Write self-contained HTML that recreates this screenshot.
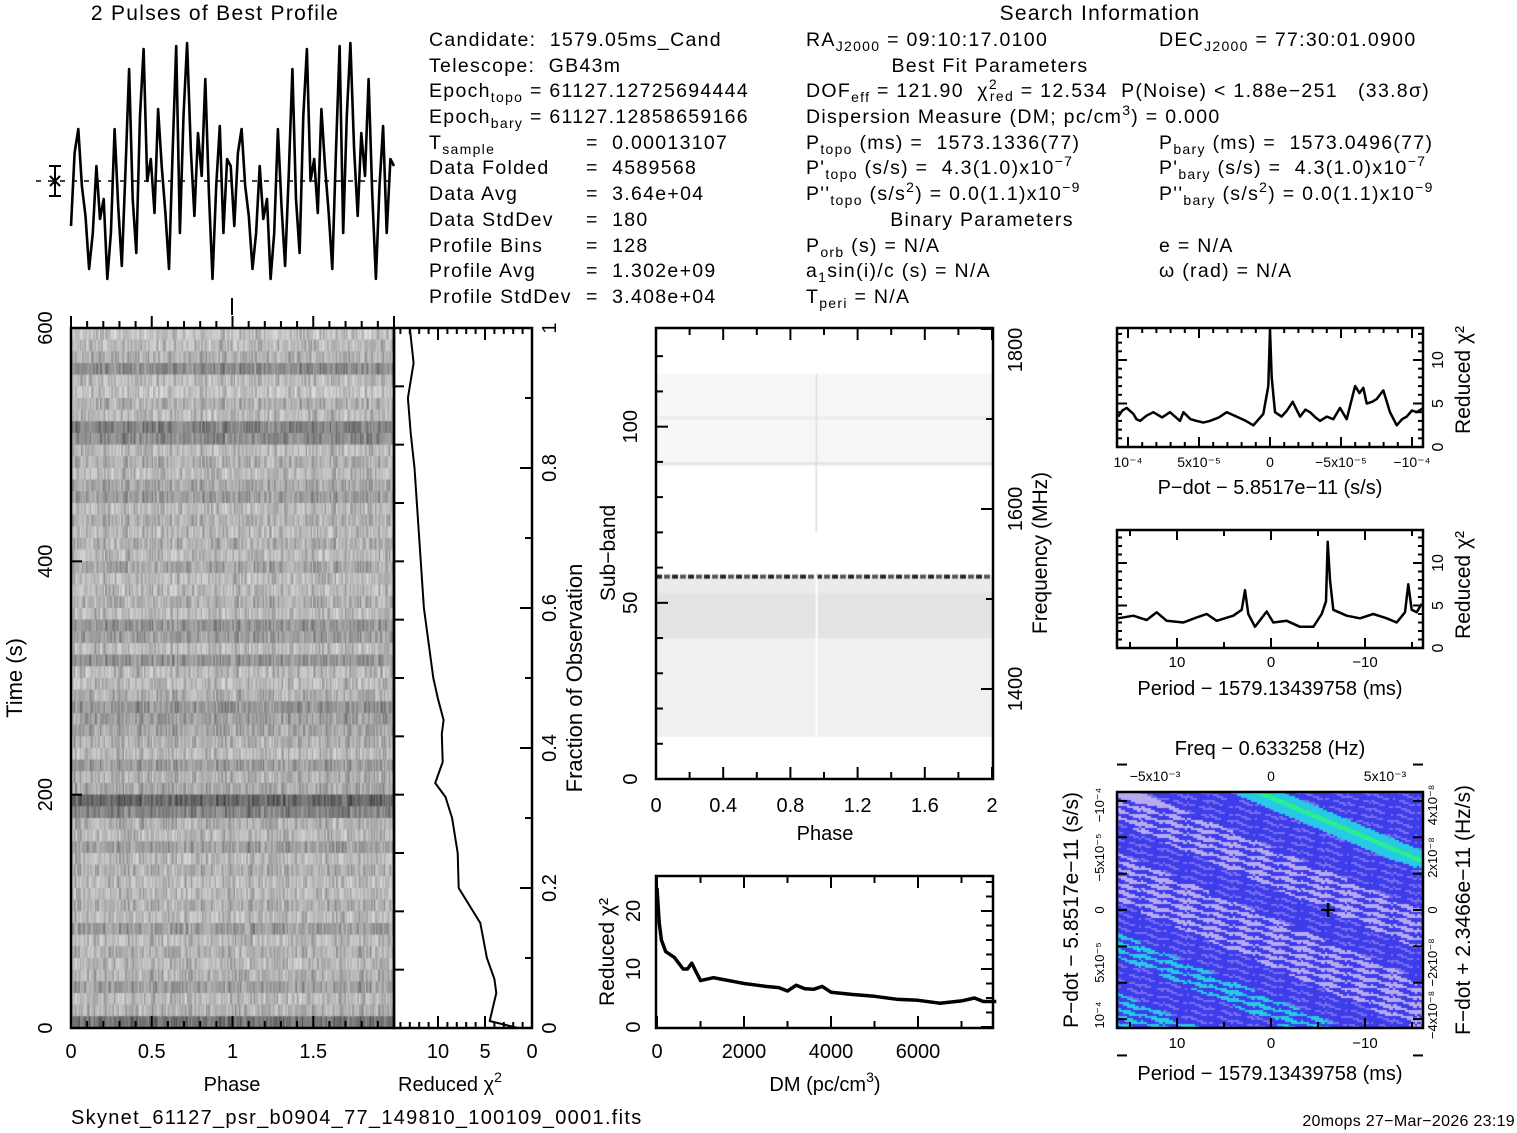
<!DOCTYPE html>
<html><head><meta charset="utf-8"><style>
html,body{margin:0;padding:0;background:#fff;}
#wrap{position:relative;width:1517px;height:1133px;overflow:hidden;background:#fff;}
canvas{position:absolute;}
svg{position:absolute;left:0;top:0;}
text{font-family:"Liberation Sans",sans-serif;fill:#000;white-space:pre;}
#info text{letter-spacing:1.3px;}
</style></head><body>
<div id="wrap">
<canvas id="tp" width="323" height="700" style="left:71px;top:328px"></canvas>
<canvas id="sb" width="337" height="451" style="left:656px;top:328px"></canvas>
<canvas id="pp" width="307" height="236" style="left:1117px;top:792px"></canvas>
<svg id="s" width="1517" height="1133" xmlns="http://www.w3.org/2000/svg">
<g id="info" font-size="19.5" xml:space="preserve">
<text x="215" y="20" font-size="21" text-anchor="middle">2 Pulses of Best Profile</text>
<text x="1100" y="20" font-size="21" text-anchor="middle">Search Information</text>
<text x="429" y="46">Candidate:  1579.05ms_Cand</text>
<text x="429" y="72">Telescope:  GB43m</text>
<text x="429" y="97">Epoch<tspan font-size="14" dy="5">topo</tspan><tspan dy="-5"> = 61127.12725694444</tspan></text>
<text x="429" y="123">Epoch<tspan font-size="14" dy="5">bary</tspan><tspan dy="-5"> = 61127.12858659166</tspan></text>
<text x="429" y="149">T<tspan font-size="14" dy="5">sample</tspan></text>
<text x="429" y="174">Data Folded</text><text x="429" y="200">Data Avg</text><text x="429" y="226">Data StdDev</text>
<text x="429" y="252">Profile Bins</text><text x="429" y="277">Profile Avg</text><text x="429" y="303">Profile StdDev</text>
<text x="586" y="149">=  0.00013107</text><text x="586" y="174">=  4589568</text><text x="586" y="200">=  3.64e+04</text>
<text x="586" y="226">=  180</text><text x="586" y="252">=  128</text><text x="586" y="277">=  1.302e+09</text><text x="586" y="303">=  3.408e+04</text>
<text x="806" y="46">RA<tspan font-size="14" dy="5">J2000</tspan><tspan dy="-5"> = 09:10:17.0100</tspan></text>
<text x="990" y="72" text-anchor="middle">Best Fit Parameters</text>
<text x="806" y="97">DOF<tspan font-size="14" dy="5">eff</tspan><tspan dy="-5"> = 121.90  χ</tspan><tspan font-size="14" dy="-8">2</tspan><tspan font-size="14" dy="12" dx="-8">red</tspan><tspan dy="-4"> = 12.534  P(Noise) &lt; 1.88e−251   (33.8σ)</tspan></text>
<text x="806" y="123">Dispersion Measure (DM; pc/cm<tspan font-size="14" dy="-8">3</tspan><tspan dy="8">) = 0.000</tspan></text>
<text x="806" y="149">P<tspan font-size="14" dy="5">topo</tspan><tspan dy="-5"> (ms) =  1573.1336(77)</tspan></text>
<text x="806" y="174">P'<tspan font-size="14" dy="5">topo</tspan><tspan dy="-5"> (s/s) =  4.3(1.0)x10</tspan><tspan font-size="14" dy="-8">−7</tspan></text>
<text x="806" y="200">P''<tspan font-size="14" dy="5">topo</tspan><tspan dy="-5"> (s/s</tspan><tspan font-size="14" dy="-8">2</tspan><tspan dy="8">) = 0.0(1.1)x10</tspan><tspan font-size="14" dy="-8">−9</tspan></text>
<text x="982" y="226" text-anchor="middle">Binary Parameters</text>
<text x="806" y="252">P<tspan font-size="14" dy="5">orb</tspan><tspan dy="-5"> (s) = N/A</tspan></text>
<text x="806" y="277">a<tspan font-size="14" dy="5">1</tspan><tspan dy="-5">sin(i)/c (s) = N/A</tspan></text>
<text x="806" y="303">T<tspan font-size="14" dy="5">peri</tspan><tspan dy="-5"> = N/A</tspan></text>
<text x="1159" y="46">DEC<tspan font-size="14" dy="5">J2000</tspan><tspan dy="-5"> = 77:30:01.0900</tspan></text>
<text x="1159" y="149">P<tspan font-size="14" dy="5">bary</tspan><tspan dy="-5"> (ms) =  1573.0496(77)</tspan></text>
<text x="1159" y="174">P'<tspan font-size="14" dy="5">bary</tspan><tspan dy="-5"> (s/s) =  4.3(1.0)x10</tspan><tspan font-size="14" dy="-8">−7</tspan></text>
<text x="1159" y="200">P''<tspan font-size="14" dy="5">bary</tspan><tspan dy="-5"> (s/s</tspan><tspan font-size="14" dy="-8">2</tspan><tspan dy="8">) = 0.0(1.1)x10</tspan><tspan font-size="14" dy="-8">−9</tspan></text>
<text x="1159" y="252">e = N/A</text>
<text x="1159" y="277">ω (rad) = N/A</text>
<text x="71" y="1124" font-size="20">Skynet_61127_psr_b0904_77_149810_100109_0001.fits</text>
<text x="1515" y="1126" font-size="16" text-anchor="end" style="letter-spacing:0.3px">20mops 27−Mar−2026 23:19</text>
</g>
<g id="g" fill="none" stroke="#000"></g>
<g id="t" font-size="20"></g>
</svg>
</div>
<script>
// ---- data arrays ----
const profileVals=[-45,28,52,-5,-35,-88,-52,15,-38,-18,-98,-52,52,-25,-85,8,112,-18,-72,65,132,0,22,-32,72,15,-32,-88,28,135,-52,65,138,32,-35,48,5,102,-12,-98,-5,55,-52,22,15];
const timeRowDark=[0.25,0.3,0.35,0.55,0.3,0.25,0.35,0.3,0.6,0.55,0.3,0.35,0.3,0.4,0.45,0.3,0.35,0.3,0.35,0.3,0.4,0.3,0.3,0.35,0.3,0.5,0.45,0.3,0.5,0.3,0.3,0.35,0.5,0.45,0.4,0.35,0.3,0.45,0.35,0.4,0.75,0.6,0.35,0.3,0.45,0.3,0.35,0.3,0.3,0.35,0.3,0.45,0.3,0.35,0.3,0.35,0.45,0.3,0.35,0.7];
const fracVals=[0,0.01,0.05,0.07,0.1,0.15,0.2,0.25,0.3,0.33,0.35,0.38,0.42,0.44,0.47,0.5,0.6,0.7,0.8,0.85,0.9,0.95,1.0];
const fracChi=[1.5,4.5,3.8,4.0,4.8,5.5,7.8,7.9,8.5,9.2,10.3,9.5,9.6,9.4,10,10.5,11.5,12,12.5,12.9,13.2,12.6,13];
const subStart=[12,40,53,89,102,89];
const subEnd=[40,53,57,115,103,90];
const subDark=[0.06,0.11,0.08,0.03,0.07,0.1];
const dmVals=[0,50,100,200,400,600,700,800,900,1000,1300,1500,1800,2000,2300,2500,2800,3000,3200,3400,3600,3800,4000,4500,5000,5500,6000,6500,7000,7300,7500,7800];
const dmChi=[24,18,15,13,12,10,10,11,9.5,8,8.5,8.2,7.8,7.5,7.2,7,6.8,6.2,7.2,6.6,6.5,7,6,5.6,5.3,4.8,4.6,4.1,4.5,5,4.4,4.4];
const pdotVals=[10.68,10.4,10.09,9.62,9.4,9.15,8.7,8.22,7.6,7.04,6.34,6.1,5.6,5.16,4.7,4.23,3.6,3.05,2.35,1.7,1.17,0.47,0.12,0,-0.12,-0.35,-0.82,-1.2,-1.6,-2.11,-2.5,-2.82,-3.2,-3.52,-4.0,-4.46,-4.93,-5.4,-5.99,-6.3,-6.57,-6.81,-7.2,-7.51,-7.98,-8.45,-8.92,-9.3,-9.63,-10.0,-10.33,-10.8];
const pdotChi=[3.5,4.2,4.5,3.8,3.2,3,3.6,4,3.4,4,3,4,3.2,3,2.8,3,3.4,4,3.5,3,2.5,3.8,7,13.5,8,4,3.5,4.2,5.2,3.5,4.3,4,3.4,3,3.5,3.2,4.5,3.2,7,6.2,6.8,5,5.2,5.5,6.5,4,2.5,3.2,3.5,4.2,4,4.5];
const perZx=[55,100,140,170,200,250,290,320,350,400,425,435,445,465,500,520,560,600,640,665,678,683,690,700,740,780,820,860,890,915,925,935,950,965];
const perChi=[3.5,3.8,3.3,4.2,3.2,3.0,3.6,4,3.2,3.8,4.5,6.8,4,2.5,4.3,3.0,3.2,2.5,2.5,4,5.5,12.5,8,4.5,3.8,3.5,4,3.5,3,4.2,7.5,4.5,4.2,5.2];
const ppBandLo=[-130,-70,-62,-57,-48,-10,30,60,110,140,165,200];
const ppBandHi=[-70,-62,-57,-48,-10,30,60,110,140,165,200,240];
const ppBandType=['B','C','G','C','B','M','B','M','B','C','B','C'];

const NS='http://www.w3.org/2000/svg';
const G=document.getElementById('g'),T=document.getElementById('t');
function el(tag,attrs,parent,name){const e=document.createElementNS(NS,tag);for(const k in attrs)e.setAttribute(k,attrs[k]);


(parent||G).appendChild(e);return e;}
function txt(x,y,s,name,opt){const e=el('text',{x:x,y:y},T,name);e.textContent=s;if(opt){for(const k in opt)e.setAttribute(k,opt[k]);}return e;}
function rtxt(x,y,s,name,fs){const e=txt(0,0,s,name,{transform:`translate(${x},${y}) rotate(-90)`,'text-anchor':'middle'});if(fs)e.setAttribute('font-size',fs);return e;}
function supTxt(x,y,main,sup,tail,name,anchor){const e=el('text',{x:x,y:y},T,name);if(anchor)e.setAttribute('text-anchor',anchor);
const a=document.createElementNS(NS,'tspan');a.textContent=main;e.appendChild(a);
const b=document.createElementNS(NS,'tspan');b.textContent=sup;b.setAttribute('font-size','14');b.setAttribute('dy','-9');e.appendChild(b);
if(tail){const c=document.createElementNS(NS,'tspan');c.textContent=tail;c.setAttribute('dy','9');e.appendChild(c);}return e;}
function box(x,y,w,h,name){el('rect',{x:x,y:y,width:w,height:h,'stroke-width':2.5},G,name);}
function line(pts,name,w){el('polyline',{points:pts.map(p=>p[0].toFixed(1)+','+p[1].toFixed(1)).join(' '),'stroke-width':w||2,'stroke-linejoin':'round'},G,name);}
function tick(x1,y1,x2,y2,name){el('line',{x1:x1,y1:y1,x2:x2,y2:y2,'stroke-width':2},G,name);}

// ---- profile ----
const px=i=>71+i*(323/(2*profileVals.length-1));
const py=v=>181-v;
el('line',{x1:36,y1:181,x2:394,y2:181,'stroke-width':1.5,'stroke-dasharray':'5,7'},G,'profile-baseline');
const pp=[];for(let k=0;k<2;k++)profileVals.forEach((v,i)=>pp.push([px(k*profileVals.length+i),py(v)]));
line(pp,'profile-line',2.6);
el('path',{d:'M49,166 H61 M55,166 V196 M49,196 H61 M50,176 L60,186 M60,176 L50,186','stroke-width':2},G,'error-bar');
tick(232,298,232,315,'phase-marker');

// ---- time-phase heatmap ----
(function(){const c=document.getElementById('tp').getContext('2d');const R=timeRowDark.length,B=256,rh=700/R,bw=323/B;
for(let r=0;r<R;r++)for(let b=0;b<B;b++){const pv=profileVals[(b*17+r*29+((b*b+r)%11))%45]/138;
let d=timeRowDark[r]*0.9+0.22*pv;d=Math.max(0,Math.min(1,d));const g=Math.round(240-200*d);c.fillStyle=`rgb(${g},${g},${g})`;c.fillRect(b*bw,r*rh,bw+0.6,rh+0.6);}})();
box(71,328,323,700,'time-phase-frame');
const tY=v=>1028-v*700/600, phX=v=>71+v*161.5;
[0,200,400,600].forEach(v=>{tick(71,tY(v),82,tY(v),'time-tick');rtxt(52,tY(v)+0,String(v),'time-tick-label');});
for(let v=0;v<=2.001;v+=0.1){const big=Math.abs(v*2-Math.round(v*2))<0.01;tick(phX(v),328,phX(v),328-(big?12:7),'phase-tick');tick(phX(v),1028,phX(v),1028+(big?-12:-7),'phase-tick');}
[0,0.5,1,1.5].forEach(v=>txt(phX(v),1058,String(v),'phase-tick-label',{'text-anchor':'middle'}));
txt(232,1091,'Phase','phase-axis-title',{'text-anchor':'middle'});
rtxt(22,678,'Time (s)','time-axis-title',22);

// ---- chi2 vs fraction ----
const cX=v=>532-v*9.4, fY=v=>1028-v*700;
box(394,328,138,700,'fraction-chi-frame');
line(fracVals.map((f,i)=>[cX(fracChi[i]),fY(f)]),'fraction-chi-line',2);
for(let v=0;v<=1.001;v+=0.1){tick(532,fY(v),532-(Math.round(v*10)%2==0?12:7),fY(v),'fraction-tick');}
for(let v=0;v<=1.001;v+=0.2)rtxt(556,fY(v),(Math.round(v*10)/10).toString(),'fraction-tick-label');
for(let v=0;v<=14;v++){tick(cX(v),1028,cX(v),1028-(v%5==0?12:6),'chi-tick');tick(cX(v),328,cX(v),328+(v%5==0?12:6),'chi-tick');}
[10,5,0].forEach(v=>txt(cX(v),1058,String(v),'chi-tick-label',{'text-anchor':'middle'}));
supTxt(398,1091,'Reduced χ','2','','chi-axis-title');
rtxt(582,678,'Fraction of Observation','fraction-axis-title',22);
for(let i=0;i<=12;i++){tick(394,fY(i/12),404,fY(i/12),'time-right-tick');}

// ---- subband ----
const sY=v=>779-v*451/128, sX=v=>656+v*168;
(function(){const c=document.getElementById('sb').getContext('2d');
subStart.forEach((s,i)=>{const g=Math.round(255-255*subDark[i]);c.fillStyle=`rgb(${g},${g},${g})`;c.fillRect(0,sY(subEnd[i])-328,337,sY(s)-sY(subEnd[i]));});
for(let x=0;x<337;x+=8){c.fillStyle=(x/8)%2?'#555':'#222';c.fillRect(x,sY(58)-328,6,4);}
c.fillStyle='#fff';c.fillRect(sX(0.95)-656,sY(58)-328,2,sY(12)-sY(58));
c.fillStyle='#ddd';c.fillRect(sX(0.95)-656,sY(115)-328,1.5,sY(70)-sY(115));})();
box(656,328,337,451,'subband-frame');
for(let v=0;v<=2.001;v+=0.2){const big=Math.round(v*10)%4==0;tick(sX(v),779,sX(v),779-(big?12:7),'sb-phase-tick');tick(sX(v),328,sX(v),328+(big?12:7),'sb-phase-tick');}
[0,0.4,0.8,1.2,1.6,2].forEach(v=>txt(sX(v),812,String(v),'sb-phase-label',{'text-anchor':'middle'}));
txt(825,840,'Phase','sb-phase-title',{'text-anchor':'middle'});
for(let v=0;v<=128;v+=10)tick(656,sY(v),656+(v%50==0?12:7),sY(v),'subband-tick');
[0,50,100].forEach(v=>rtxt(637,sY(v),String(v),'subband-label'));
rtxt(615,553,'Sub−band','subband-title',21);
const fqY=v=>689-(v-1400)*0.9;
[1400,1500,1600,1700,1800].forEach(v=>tick(993,fqY(v),993-(v%200==0?12:7),fqY(v),'freq-tick'));
[1400,1600,1800].forEach(v=>rtxt(1022,Math.max(fqY(v),350),String(v),'freq-label'));
rtxt(1047,553,'Frequency (MHz)','freq-title',21);

// ---- DM ----
const dX=v=>657+v*0.0435, dY=v=>1027-v*5.8;
box(656,876,337,152,'dm-frame');
line(dmVals.map((d,i)=>[dX(d),dY(dmChi[i])]),'dm-chi-line',3.5);
for(let v=0;v<=7500;v+=1000){tick(dX(v),1028,dX(v),1028-(v%2000==0?12:7),'dm-tick');tick(dX(v),876,dX(v),876+(v%2000==0?12:7),'dm-tick');}
[0,2000,4000,6000].forEach(v=>txt(dX(v),1058,String(v),'dm-tick-label',{'text-anchor':'middle'}));
for(let v=0;v<=25;v+=2.5)tick(993,dY(v),993-(v%10==0?12:7),dY(v),'dm-chi-tick');
[0,10,20].forEach(v=>rtxt(640,dY(v),String(v),'dm-chi-label'));
supTxt(825,1091,'DM (pc/cm','3',')','dm-title','middle');
rtxt(614,952,'Reduced χ²','dm-chi-title',21);

// ---- pdot chi2 ----
const pdX=v=>1270-v*14.2, pcY=v=>447-v*8.7;
box(1117,328,306,119,'pdot-chi-frame');
line(pdotVals.map((p,i)=>[pdX(p),pcY(pdotChi[i])]),'pdot-chi-line',2.5);
for(let v=-10;v<=10;v+=1){tick(pdX(v),447,pdX(v),447-(v%5==0?10:5),'pdot-tick');tick(pdX(v),328,pdX(v),328+(v%5==0?10:5),'pdot-tick');}
[[10,'10⁻⁴'],[5,'5x10⁻⁵'],[0,'0'],[-5,'−5x10⁻⁵'],[-10,'−10⁻⁴']].forEach(a=>txt(pdX(a[0]),467,a[1],'pdot-tick-label',{'text-anchor':'middle','font-size':14}));
txt(1270,494,'P−dot − 5.8517e−11 (s/s)','pdot-title',{'text-anchor':'middle'});
for(let v=0;v<=13;v++){tick(1423,pcY(v),1423-(v%5==0?10:5),pcY(v),'pdot-chi-tick');tick(1117,pcY(v),1117+(v%5==0?10:5),pcY(v),'pdot-chi-tick');}
[0,5,10].forEach(v=>rtxt(1443,pcY(v),String(v),'pdot-chi-label',16));
rtxt(1470,380,'Reduced χ²','pdot-chi-title',21);

// ---- period chi2 ----
const peY=v=>648-v*8.5, peX=p=>1271-p*9.4;
box(1117,530,306,118,'period-chi-frame');
line(perZx.map((z,i)=>{const x=1100+z/3;return [peX((1271-x)/9.4),peY(perChi[i])];}),'period-chi-line',2.5);
for(let v=-15;v<=15;v+=5){tick(peX(v),648,peX(v),648-(v%10==0?10:6),'period-tick');tick(peX(v),530,peX(v),530+(v%10==0?10:6),'period-tick');}
[[10,'10'],[0,'0'],[-10,'−10']].forEach(a=>txt(peX(a[0]),667,a[1],'period-tick-label',{'text-anchor':'middle','font-size':15}));
txt(1270,695,'Period − 1579.13439758 (ms)','period-title',{'text-anchor':'middle'});
for(let v=0;v<=13;v++){tick(1423,peY(v),1423-(v%5==0?10:5),peY(v),'period-chi-tick');tick(1117,peY(v),1117+(v%5==0?10:5),peY(v),'period-chi-tick');}
[0,5,10].forEach(v=>rtxt(1443,peY(v),String(v),'period-chi-label',16));
rtxt(1470,585,'Reduced χ²','period-chi-title',21);

// ---- P-Pdot colour map ----
(function(){const c=document.getElementById('pp').getContext('2d');const col={B:[60,60,235],L:[185,170,240],C:[40,200,230],G:[40,240,140],M:[120,110,238]};
for(let y=0;y<236;y+=2)for(let x=0;x<307;x+=2){const u=y-0.42*x;let t='B';for(let i=0;i<ppBandLo.length;i++)if(u>=ppBandLo[i]&&u<ppBandHi[i]){t=ppBandType[i];}
let k=col[t];const s=(Math.floor(u/2.5)+Math.floor(x/23)+Math.floor(y/7))%4;
if(t=='M'){k=s<2?col.L:col.B;}else if(t=='B'){k=s==0?[120,110,238]:col.B;}else if(t=='C'){k=s>=2?col.B:col.C;}
c.fillStyle=`rgb(${k[0]},${k[1]},${k[2]})`;c.fillRect(x,y,2,2);}})();
box(1117,792,306,236,'ppdot-frame');
el('path',{d:'M1321,910 H1335 M1328,903 V917','stroke-width':2.5},G,'best-fit-marker');
const cpX=p=>1271-p*9.4, cpY=v=>910-v*1.6;
for(let v=-15;v<=15;v+=5){tick(cpX(v),1028,cpX(v),1028-(v%10==0?10:6),'pp-period-tick');}
[[10,'10'],[0,'0'],[-10,'−10']].forEach(a=>txt(cpX(a[0]),1048,a[1],'pp-period-label',{'text-anchor':'middle','font-size':15}));
txt(1270,1080,'Period − 1579.13439758 (ms)','pp-period-title',{'text-anchor':'middle'});
[[1155,'−5x10⁻³'],[1271,'0'],[1385,'5x10⁻³']].forEach(a=>txt(a[0],781,a[1],'freq-offset-label',{'text-anchor':'middle','font-size':14}));
txt(1270,755,'Freq − 0.633258 (Hz)','freq-offset-title',{'text-anchor':'middle'});
for(let v=-100;v<=100;v+=25){tick(1117,cpY(v/1.1),1127,cpY(v/1.1),'pp-pdot-tick');tick(1423,cpY(v/1.1),1413,cpY(v/1.1),'pp-fdot-tick');}
[[-100,'−10⁻⁴'],[-50,'−5x10⁻⁵'],[0,'0'],[50,'5x10⁻⁵'],[100,'10⁻⁴']].forEach(a=>rtxt(1104,Math.min(1020,Math.max(800,910+a[0]*1.05)),a[1],'pp-pdot-label',13));
[[-100,'−4x10⁻⁸'],[-50,'−2x10⁻⁸'],[0,'0'],[50,'2x10⁻⁸'],[100,'4x10⁻⁸']].forEach(a=>rtxt(1437,Math.min(1020,Math.max(805,910-a[0]*1.05)),a[1],'pp-fdot-label',13));
rtxt(1078,910,'P−dot − 5.8517e−11 (s/s)','pp-pdot-title',21);
rtxt(1470,910,'F−dot + 2.3466e−11 (Hz/s)','pp-fdot-title',21);
</script>
</body></html>
